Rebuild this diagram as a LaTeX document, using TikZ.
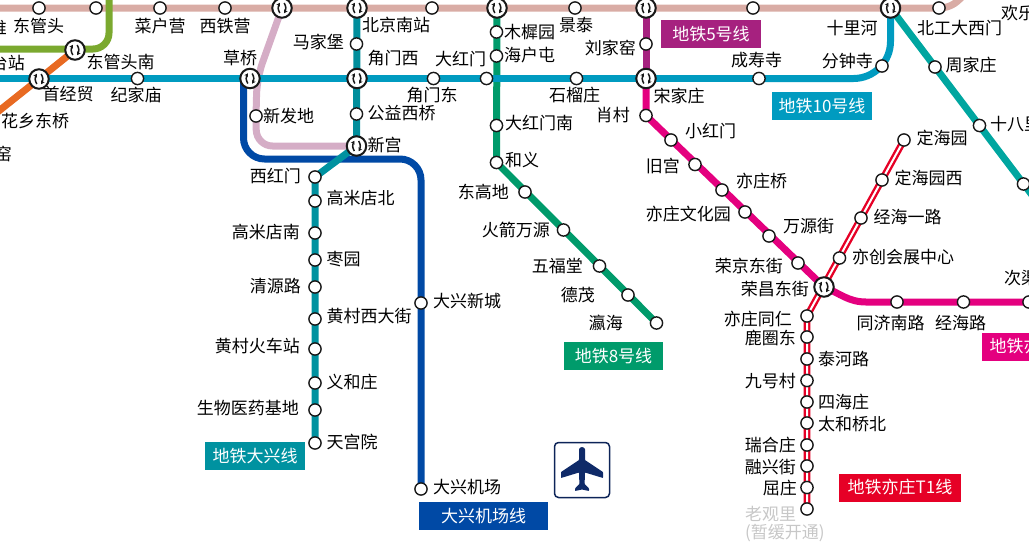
\documentclass[tikz,border=0pt]{standalone}
\usepackage{fontspec}
\setmainfont{Noto Sans CJK SC}
\usepackage{xcolor}
\usetikzlibrary{arrows.meta, positioning, backgrounds, calc}

\definecolor{topcol}{HTML}{D9ACA5}
\definecolor{olivecol}{HTML}{7BA92F}
\definecolor{orangecol}{HTML}{E86A22}
\definecolor{tencol}{HTML}{009BC0}
\definecolor{fourcol}{HTML}{008E9C}
\definecolor{eightcol}{HTML}{009B6B}
\definecolor{purplecol}{HTML}{A6217F}
\definecolor{fivecol}{HTML}{E4007F}
\definecolor{fifteencol}{HTML}{00A6A0}
\definecolor{pinkcol}{HTML}{D5ADC6}
\definecolor{airportcol}{HTML}{0049A5}
\definecolor{dxcol}{HTML}{0092A0}
\definecolor{tonecol}{HTML}{E60026}
\definecolor{planecol}{HTML}{0F2A68}

\begin{document}
\begin{tikzpicture}[
    x=1pt, y=-1pt,
    stn/.style={circle, draw=black!90, fill=white, line width=1.4pt, minimum size=12.2pt, inner sep=0pt},
    swapstn/.style={circle, draw=black!90, fill=white, line width=2pt, minimum size=19.5pt, inner sep=0pt,
        path picture={
            \draw[line width=1.5pt, -{Stealth[length=3.5pt,width=4pt]}] ([shift={(-2.2,5)}]path picture bounding box.center) to[bend left=30] ([shift={(-2.2,-5.2)}]path picture bounding box.center);
            \draw[line width=1.5pt, -{Stealth[length=3.5pt,width=4pt]}] ([shift={(2.2,-5)}]path picture bounding box.center) to[bend left=30] ([shift={(2.2,5.2)}]path picture bounding box.center);
        }},
    txt/.style={inner sep=0pt, text height=15pt, text depth=2pt, font=\fontsize{17pt}{20pt}\selectfont, text=black},
    mute/.style={txt, text=black!22},
    tag/.style={minimum width=#1, minimum height=28pt, inner sep=0pt, text=white, font=\fontsize{17pt}{20pt}\selectfont},
    track/.style={line width=7pt},
    tone/.style={draw=tonecol, double=white, line width=2.4pt, double distance=2pt}
]
\useasboundingbox (0,0) rectangle (1029,558);

% Free line ends
\coordinate (topW) at (-5,8);
\coordinate (topE) at (966,-8);
\coordinate (oliveW) at (-5,49);
\coordinate (oliveN) at (109,-5);
\coordinate (orangeW) at (-5,114);
\coordinate (tenW) at (-5,78.5);
\coordinate (fifteenE) at (1035,199);
\coordinate (fiveE) at (1035,302);
\coordinate (fiveBend) at (866,302);
\coordinate (pinkBend) at (257,78);
\coordinate (pinkLow) at (256.5,146);
\coordinate (airA) at (243.5,78);

% Top line
\node[stn] (s1) at (39,8) {};
\node[stn] (s2) at (96,8) {};
\node[stn] (caihuying) at (160,8) {};
\node[stn] (xitieying) at (225,8) {};
\node[swapstn] (pinkTop) at (282,8) {};
\node[swapstn] (beijingnan) at (357,8) {};
\node[stn] (s3) at (432,8) {};
\node[swapstn] (eightTop) at (497,8) {};
\node[stn] (jingtai) at (575,8) {};
\node[swapstn] (fiveTop) at (646,8) {};
\node[stn] (s4) at (753,8) {};
\node[swapstn] (shilihe) at (890.5,8) {};
\node[stn] (beigongda) at (939,8) {};

% Line 10
\node[swapstn] (shoujingmao) at (39,79) {};
\node[swapstn] (dongguantounan) at (75,50) {};
\node[stn] (jijiamiao) at (137.5,78.5) {};
\node[swapstn] (caoqiao) at (250,78.5) {};
\node[swapstn] (jiaomenxi) at (357,78.5) {};
\node[stn] (jiaomendong) at (433.5,78.5) {};
\node[stn] (dahongmen) at (486.5,78.5) {};
\node[stn] (shiliuzhuang) at (576.5,78.5) {};
\node[swapstn] (songjiazhuang) at (646,78.5) {};
\node[stn] (chengshousi) at (759,78.5) {};
\node[stn] (fenzhongsi) at (882,66) {};

% Line 4 and line 8
\node[stn] (majiapu) at (356.5,44) {};
\node[stn] (gongyixiqiao) at (356.5,114) {};
\node[swapstn] (xingong) at (356.5,146) {};
\node[stn] (muxiyuan) at (496.5,32) {};
\node[stn] (haihutun) at (496.5,56) {};
\node[stn] (dahongmennan) at (496.5,125.5) {};
\node[stn] (heyi) at (496.5,162.5) {};
\node[stn] (donggaodi) at (525,192) {};
\node[stn] (huojian) at (563.5,230) {};
\node[stn] (wufutang) at (599.5,266) {};
\node[stn] (demao) at (628,295) {};
\node[stn] (yinghai) at (656.5,323) {};
\node[stn] (xinfadi) at (256,116) {};

% Line 5
\node[stn] (liujiayao) at (646,44) {};
\node[stn] (xiaocun) at (646,115.5) {};
\node[stn] (xiaohongmen) at (671,140) {};
\node[stn] (jiugong) at (695,164.5) {};
\node[stn] (yizhuangqiao) at (722,190) {};
\node[stn] (wenhuayuan) at (745,212) {};
\node[stn] (wanyuanjie) at (769,236) {};
\node[stn] (rongjing) at (798,263) {};
\node[swapstn] (rongchang) at (824,287) {};
\node[stn] (tongji) at (897,302) {};
\node[stn] (jinghai) at (963.5,302) {};
\node[stn] (ciqunan) at (1029,302) {};

% Line 15
\node[stn] (zhoujiazhuang) at (935,67) {};
\node[stn] (shibali) at (979.5,125.5) {};
\node[stn] (s5) at (1023.5,184) {};

% Yizhuang T1
\node[stn] (dinghaiyuan) at (904,140) {};
\node[stn] (dinghaixi) at (882,180) {};
\node[stn] (jinghaiyilu) at (861,218) {};
\node[stn] (yichuang) at (839.5,258) {};
\node[stn] (tongren) at (807,316) {};
\node[stn] (luquandong) at (807,337) {};
\node[stn] (taihelu) at (807,359) {};
\node[stn] (jiuhaocun) at (807,380.5) {};
\node[stn] (sihaizhuang) at (807,402) {};
\node[stn] (taiheqiao) at (807,423) {};
\node[stn] (ruihe) at (807,445) {};
\node[stn] (rongxing) at (807,466) {};
\node[stn] (quzhuang) at (807,487.5) {};
\node[stn] (laoguanli) at (807,509) {};

% Daxing line
\node[stn] (xihongmen) at (315,177) {};
\node[stn] (gaomibei) at (315,201) {};
\node[stn] (gaominan) at (315,233) {};
\node[stn] (zaoyuan) at (315,260) {};
\node[stn] (qingyuan) at (315,287) {};
\node[stn] (huangcunxi) at (315,319) {};
\node[stn] (huangcunhuo) at (315,349) {};
\node[stn] (yihezhuang) at (315,383) {};
\node[stn] (shengwu) at (315,410) {};
\node[stn] (tiangong) at (315,443) {};

% Airport line
\node[stn] (daxingxincheng) at (421,303) {};
\node[stn] (daxingjichang) at (421,489) {};

% Lines
\begin{scope}[on background layer]
\draw[track, topcol] (topW) -- (beigongda.center) to[out=0,in=-128] (topE);
\draw[track, olivecol, rounded corners=16pt] (oliveW) -- (109,49) -- (oliveN);
\draw[track, orangecol] (orangeW) -- (shoujingmao.center) -- (dongguantounan.center);
\draw[track, fifteencol] (shilihe.center) -- (fifteenE);
\draw[track, pinkcol, rounded corners=16pt] (pinkTop.center) -- (pinkBend) [sharp corners] -- (xinfadi.center) [rounded corners=16pt] -- (pinkLow) -- (xingong.center);
\draw[track, airportcol, rounded corners=21pt] (airA) -- (243.5,159) -- (421,159) -- (daxingjichang.center);
\draw[track, fourcol] (beijingnan.center) -- (xingong.center);
\draw[track, eightcol] (eightTop.center) -- (heyi.center) -- (yinghai.center);
\draw[track, tencol] (tenW) -- (chengshousi.center);
\draw[track, tencol, rounded corners=37pt] (chengshousi.center) -| (shilihe.center);
\draw[track, purplecol] (fiveTop.center) -- (songjiazhuang.center);
\draw[track, fivecol] (songjiazhuang.center) -- (xiaocun.center) -- (rongchang.center) to[out=-22,in=180] (fiveBend) -- (fiveE);
\draw[track, dxcol] (xingong.center) -- (xihongmen.center) -- (tiangong.center);
\draw[tone] (dinghaiyuan.center) -- (tongren.center) -- (laoguanli.center);
\end{scope}

% Labels of the top rows
\node[txt, anchor=east] (tWest) at (7,28) {维};
\node[txt] (tDongguantou) at (38.5,26) {东管头};
\node[txt] (tCaihuying) at (160,26) {菜户营};
\node[txt] (tXitieying) at (225,26) {西铁营};
\node[txt, anchor=east] (tFengtai) at (25,63) {丰台站};
\node[txt] (tDongguantounan) at (120.5,62) {东管头南};
\node[txt] (tShoujingmao) at (68,94) {首经贸};
\node[txt] (tJijiamiao) at (136,95) {纪家庙};
\node[txt, anchor=west] (tHuaxiang) at (1,121) {花乡东桥};
\node[txt, anchor=east] (tYao) at (12,154) {窑};
\node[txt] (tCaoqiao) at (240,58) {草桥};
\node[txt, anchor=west] (tXinfadi) at (263,116) {新发地};
\node[txt, anchor=east] (tMajiapu) at (344,42) {马家堡};
\node[txt, anchor=west] (tBeijingnan) at (362,25) {北京南站};
\node[txt, anchor=west] (tJiaomenxi) at (367.5,58) {角门西};
\node[txt] (tDahongmen) at (460.5,59) {大红门};
\node[txt] (tJiaomendong) at (432,95) {角门东};
\node[txt, anchor=west] (tGongyi) at (367.5,113) {公益西桥};
\node[txt, anchor=west] (tXingong) at (367.5,145) {新宫};
\node[txt, anchor=west] (tMuxiyuan) at (504,32) {木樨园};
\node[txt, anchor=west] (tHaihutun) at (504,55) {海户屯};
\node[txt] (tJingtai) at (576,25) {景泰};
\node[txt, anchor=east] (tLiujiayao) at (636,48) {刘家窑};
\node[txt] (tShiliuzhuang) at (574.5,95) {石榴庄};
\node[txt, anchor=west] (tSongjia) at (653.5,96) {宋家庄};
\node[txt, anchor=east] (tXiaocun) at (630,115) {肖村};
\node[txt, anchor=west] (tDahongmennan) at (505,123) {大红门南};
\node[txt, anchor=west] (tHeyi) at (505,160) {和义};
\node[txt] (tChengshousi) at (756.5,60) {成寿寺};
\node[txt, anchor=east] (tFenzhongsi) at (873,61) {分钟寺};
\node[txt] (tShilihe) at (852,28) {十里河};
\node[txt, anchor=west] (tBeigongda) at (917,28) {北工大西门};
\node[txt, anchor=west] (tHuanle) at (1001,13) {欢乐谷景区};
\node[txt, anchor=west] (tZhoujia) at (945.5,65) {周家庄};
\node[txt, anchor=west] (tShibali) at (990,124) {十八里店};

% Labels of line 8
\node[txt, anchor=east] (tDonggaodi) at (509,192) {东高地};
\node[txt, anchor=east] (tHuojian) at (550,230) {火箭万源};
\node[txt, anchor=east] (tWufutang) at (583,266) {五福堂};
\node[txt, anchor=east] (tDemao) at (595,295) {德茂};
\node[txt, anchor=east] (tYinghai) at (623,323) {瀛海};

% Labels of line 5
\node[txt, anchor=west] (tXiaohongmen) at (685,131) {小红门};
\node[txt, anchor=east] (tJiugong) at (680,166) {旧宫};
\node[txt, anchor=west] (tYizhuangqiao) at (736,181) {亦庄桥};
\node[txt, anchor=east] (tWenhuayuan) at (731,214) {亦庄文化园};
\node[txt, anchor=west] (tWanyuan) at (783,226) {万源街};
\node[txt, anchor=east] (tRongjing) at (783,266) {荣京东街};
\node[txt, anchor=east] (tRongchang) at (809,289) {荣昌东街};
\node[txt, anchor=west] (tTongji) at (856.5,323) {同济南路};
\node[txt, anchor=west] (tJinghai) at (935,323) {经海路};
\node[txt, anchor=west] (tCiqunan) at (1004,278) {次渠南};

% Labels of T1
\node[txt, anchor=west] (tDinghaiyuan) at (916.5,138) {定海园};
\node[txt, anchor=west] (tDinghaixi) at (894.5,178) {定海园西};
\node[txt, anchor=west] (tJinghaiyilu) at (873.5,217) {经海一路};
\node[txt, anchor=west] (tYichuang) at (852,257) {亦创会展中心};
\node[txt, anchor=east] (tTongren) at (792,319) {亦庄同仁};
\node[txt, anchor=east] (tLuquan) at (796,338) {鹿圈东};
\node[txt, anchor=west] (tTaihelu) at (818,359) {泰河路};
\node[txt, anchor=east] (tJiuhao) at (796,381) {九号村};
\node[txt, anchor=west] (tSihai) at (818,402) {四海庄};
\node[txt, anchor=west] (tTaiheqiao) at (818,424) {太和桥北};
\node[txt, anchor=east] (tRuihe) at (796,445) {瑞合庄};
\node[txt, anchor=east] (tRongxing) at (796,467) {融兴街};
\node[txt, anchor=east] (tQuzhuang) at (797,488) {屈庄};
\node[mute, anchor=west] (tLaoguan) at (745,514) {老观里};
\node[mute, anchor=west] (tZanhuan) at (745,532) {(暂缓开通)};

% Labels of the Daxing line
\node[txt, anchor=east] (tXihongmen) at (301,176) {西红门};
\node[txt, anchor=west] (tGaomibei) at (326.5,198) {高米店北};
\node[txt, anchor=east] (tGaominan) at (300,232) {高米店南};
\node[txt, anchor=west] (tZaoyuan) at (326.5,259) {枣园};
\node[txt, anchor=east] (tQingyuan) at (301,286) {清源路};
\node[txt, anchor=west] (tHuangcunxi) at (326.5,316) {黄村西大街};
\node[txt, anchor=east] (tHuangcunhuo) at (300,346) {黄村火车站};
\node[txt, anchor=west] (tYihe) at (326.5,382) {义和庄};
\node[txt, anchor=east] (tShengwu) at (299,408) {生物医药基地};
\node[txt, anchor=west] (tTiangong) at (326.5,442) {天宫院};
\node[txt, anchor=west] (tXincheng) at (433,301) {大兴新城};
\node[txt, anchor=west] (tJichang) at (433,487) {大兴机场};

% Line name tags
\node[tag=100pt, fill=purplecol] (tagFive) at (711,34) {地铁5号线};
\node[tag=100pt, fill=tencol] (tagTen) at (822,106) {地铁10号线};
\node[tag=99pt, fill=eightcol] (tagEight) at (613.5,356) {地铁8号线};
\node[tag=100pt, fill=dxcol] (tagDaxing) at (255,456) {地铁大兴线};
\node[tag=129pt, fill=airportcol] (tagAirport) at (483.5,516) {大兴机场线};
\node[tag=122pt, fill=tonecol] (tagTone) at (900,487.5) {地铁亦庄T1线};
\node[tag=100pt, fill=fivecol] (tagYizhuang) at (1032,346.5) {地铁亦庄线};

% Airport sign
\node[draw=planecol!85!black, line width=1.5pt, rounded corners=4pt, minimum width=55pt, minimum height=55pt, inner sep=0pt] (planebox) at (582,470) {};
\fill[planecol, rounded corners=0.6pt] (579,450) arc[start angle=180, end angle=0, x radius=3, y radius=-3] -- (585,460) -- (603,472) -- (603,478) -- (585,472.5) -- (584.6,484) -- (589,488.5) -- (589,491) -- (582,489.5) -- (575,491) -- (575,488.5) -- (579.4,484) -- (579,472.5) -- (561,478) -- (561,472) -- (579,460) -- cycle;

\end{tikzpicture}
\end{document}
